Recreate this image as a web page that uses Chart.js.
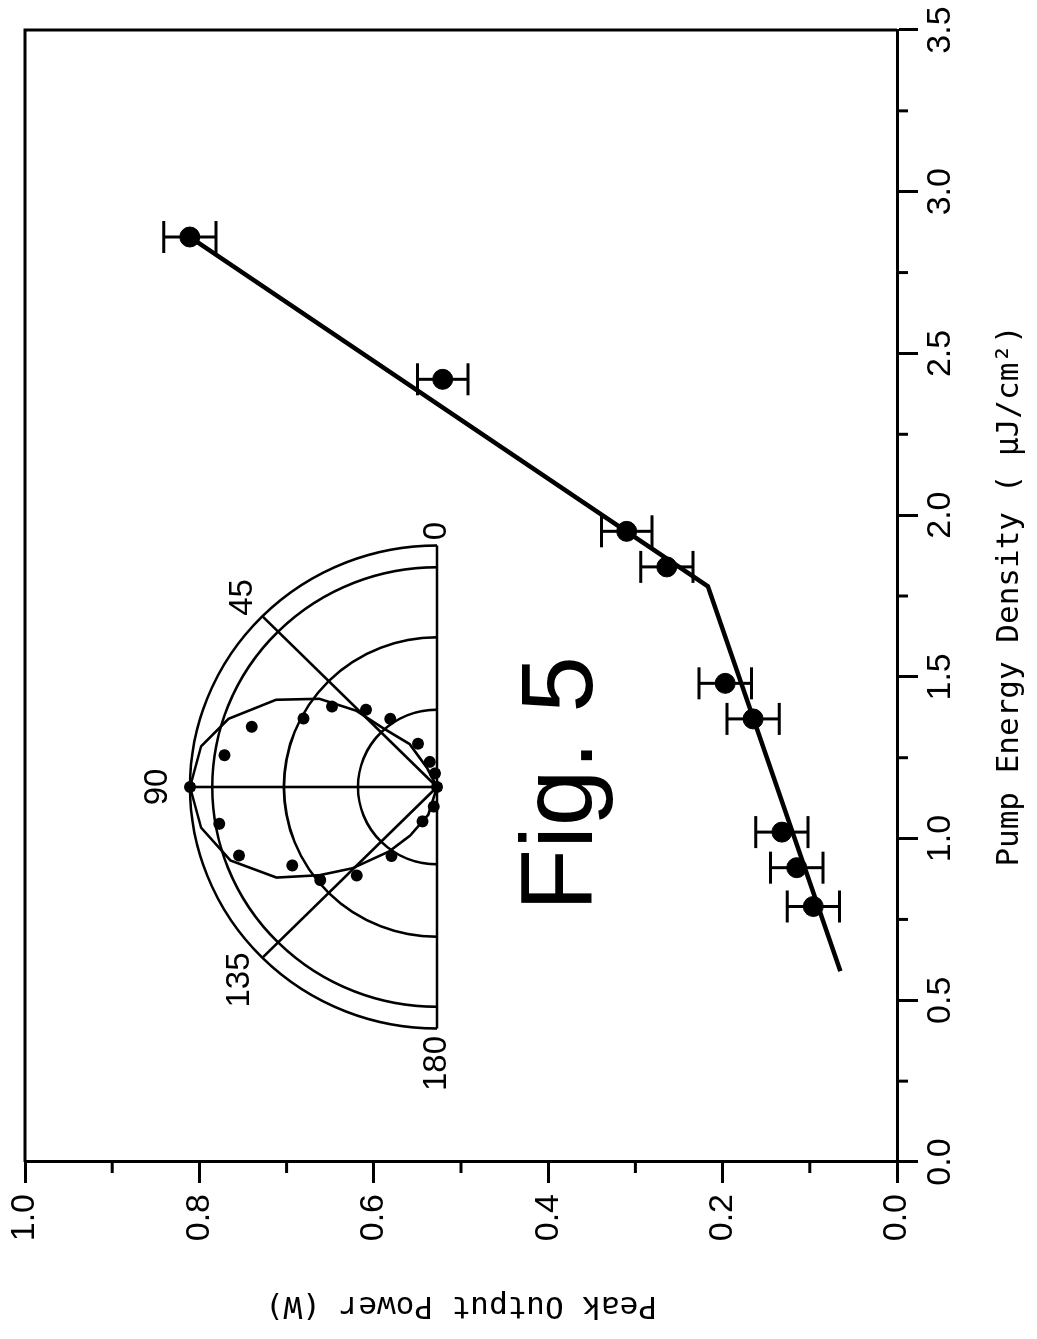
<!DOCTYPE html>
<html lang="en">
  <head>
    <meta charset="UTF-8" />
    <title>Fig. 5 - Peak Output Power vs Pump Energy Density</title>
    <script src="https://cdn.jsdelivr.net/npm/chart.js"></script>
    <style>
      html, body {
        margin: 0;
        padding: 0;
        background-color: #ffffff;
        overflow: hidden;
      }
      /* the figure is printed sideways: draw it upright, then turn it */
      #wrap {
        position: absolute;
        left: 0;
        top: 0;
        width: 1339px;
        height: 1037px;
        transform-origin: 0 0;
        transform: translate(0, 1339px) rotate(-90deg);
      }
    </style>
  </head>
  <body>
    <div id="wrap"><canvas id="fig5" width="1339" height="1037"></canvas></div>
    <script>
      // main plot: measured points with error bars
      const pumpEnergy = [2.86, 2.42, 1.95, 1.84, 1.48, 1.37, 1.02, 0.91, 0.79];
      const peakPower = [0.811, 0.521, 0.31, 0.264, 0.197, 0.165, 0.132, 0.115, 0.096];
      const powerError = [0.03, 0.029, 0.029, 0.03, 0.03, 0.03, 0.03, 0.03, 0.03];

      // fitted two-slope line
      const fitPump = [0.59, 1.78, 2.86];
      const fitPower = [0.065, 0.217, 0.811];

      // tick labels
      const pumpTicks = [0.0, 0.5, 1.0, 1.5, 2.0, 2.5, 3.0, 3.5];
      const powerTicks = [0.0, 0.2, 0.4, 0.6, 0.8, 1.0];

      // polar inset: measured dots (angle in degrees, normalized value)
      const polarAngle = [0, 8, 15.5, 23.2, 33.9, 41.9, 51.9, 62.3, 71.6, 81.3, 90,
        99.8, 109.5, 119, 129.2, 138.4, 147.2, 157.6, 171];
      const polarValue = [0, 0.057, 0.108, 0.195, 0.34, 0.43, 0.54, 0.61, 0.79, 0.87, 1.0,
        0.895, 0.85, 0.67, 0.61, 0.49, 0.34, 0.154, 0.082];

      // polar inset: fitted curve
      const polarFitAngle = [0, 27, 32, 42, 46, 52.5, 61, 71.5, 80, 90,
        100, 110, 120, 127.5, 134.5, 144, 151.5, 163, 180];
      const polarFitValue = [0, 0.09, 0.21, 0.33, 0.455, 0.6, 0.745, 0.89, 0.97, 1.0,
        0.97, 0.89, 0.75, 0.6, 0.48, 0.33, 0.23, 0.12, 0];

      // polar inset grid and angle labels
      const polarRings = [0.32, 0.62, 0.91, 1.0];
      const polarSpokes = [45, 90, 135];
      const polarLabels = ["0", "45", "90", "135", "180"];
      const polarLabelAngle = [0, 45, 90, 135, 180];
      const polarLabelRadius = [1.06, 1.11, 1.13, 1.13, 1.145];

      // layout (pixels in the upright frame)
      const AREA = { left: 177, right: 1309, top: 25, bottom: 897 };
      const INSET = { cx: 552, cy: 437, ux: 241.5, uy: 247 };

      const rad = (d) => (d * Math.PI) / 180;
      const polarXY = (angles, values) =>
        angles.map((a, i) => ({
          x: values[i] * Math.cos(rad(a)),
          y: values[i] * Math.sin(rad(a)),
        }));

      const noPad = (s) => {
        s.paddingTop = 0;
        s.paddingBottom = 0;
        s.paddingLeft = 0;
        s.paddingRight = 0;
      };

      const decor = {
        id: "decor",
        beforeDraw(chart) {
          const ctx = chart.ctx;
          ctx.save();
          ctx.fillStyle = "#ffffff";
          ctx.fillRect(0, 0, chart.width, chart.height);
          ctx.restore();
        },
        beforeDatasetsDraw(chart) {
          const ctx = chart.ctx;
          const a = chart.chartArea;
          const x = chart.scales.x;
          const y = chart.scales.y;
          const px = chart.scales.px;
          const py = chart.scales.py;
          ctx.save();
          ctx.strokeStyle = "#000";
          ctx.lineCap = "butt";

          // frame (top and right sides)
          ctx.lineWidth = 3;
          ctx.beginPath();
          ctx.moveTo(a.left, a.top);
          ctx.lineTo(a.right, a.top);
          ctx.lineTo(a.right, a.bottom);
          ctx.stroke();

          // minor ticks halfway between the major ones
          for (let i = 0; i < pumpTicks.length - 1; i++) {
            const xp = x.getPixelForValue((pumpTicks[i] + pumpTicks[i + 1]) / 2);
            ctx.beginPath();
            ctx.moveTo(xp, a.bottom);
            ctx.lineTo(xp, a.bottom + 11);
            ctx.stroke();
          }
          for (let i = 0; i < powerTicks.length - 1; i++) {
            const yp = y.getPixelForValue((powerTicks[i] + powerTicks[i + 1]) / 2);
            ctx.beginPath();
            ctx.moveTo(a.left, yp);
            ctx.lineTo(a.left - 11, yp);
            ctx.stroke();
          }

          // polar inset grid
          const ox = px.getPixelForValue(0);
          const oy = py.getPixelForValue(0);
          ctx.lineWidth = 2.6;
          polarRings.forEach((r) => {
            const rx = px.getPixelForValue(r) - ox;
            const ry = oy - py.getPixelForValue(r);
            ctx.beginPath();
            ctx.ellipse(ox, oy, rx, ry, 0, Math.PI, 2 * Math.PI);
            ctx.stroke();
          });
          ctx.beginPath();
          ctx.moveTo(px.getPixelForValue(-1), oy);
          ctx.lineTo(px.getPixelForValue(1), oy);
          ctx.stroke();
          polarSpokes.forEach((d) => {
            ctx.beginPath();
            ctx.moveTo(ox, oy);
            ctx.lineTo(px.getPixelForValue(Math.cos(rad(d))), py.getPixelForValue(Math.sin(rad(d))));
            ctx.stroke();
          });

          // error bars
          ctx.lineWidth = 3;
          pumpEnergy.forEach((p, i) => {
            const xp = x.getPixelForValue(p);
            const y1 = y.getPixelForValue(peakPower[i] - powerError[i]);
            const y2 = y.getPixelForValue(peakPower[i] + powerError[i]);
            ctx.beginPath();
            ctx.moveTo(xp, y1);
            ctx.lineTo(xp, y2);
            ctx.moveTo(xp - 16, y1);
            ctx.lineTo(xp + 16, y1);
            ctx.moveTo(xp - 16, y2);
            ctx.lineTo(xp + 16, y2);
            ctx.stroke();
          });
          ctx.restore();
        },
        afterDatasetsDraw(chart) {
          const ctx = chart.ctx;
          const x = chart.scales.x;
          const y = chart.scales.y;
          const px = chart.scales.px;
          const py = chart.scales.py;
          ctx.save();
          ctx.fillStyle = "#000";

          // angle labels of the inset
          ctx.font = "33px 'Liberation Sans', Arial, sans-serif";
          ctx.textAlign = "center";
          ctx.textBaseline = "middle";
          polarLabels.forEach((t, i) => {
            const r = polarLabelRadius[i];
            const d = rad(polarLabelAngle[i]);
            ctx.fillText(t, px.getPixelForValue(r * Math.cos(d)), py.getPixelForValue(r * Math.sin(d)));
          });

          // figure caption
          ctx.font = "102px 'Liberation Sans', Arial, sans-serif";
          ctx.textBaseline = "alphabetic";
          ctx.fillText("Fig. 5", x.getPixelForValue(1.17), y.getPixelForValue(0.35));
          ctx.restore();
        },
      };

      const tickFont = { family: "'Liberation Sans', Arial, sans-serif", size: 34 };
      const titleFont = { family: "'DejaVu Sans Mono', monospace", size: 31 };

      new Chart(document.getElementById("fig5"), {
        type: "scatter",
        data: {
          datasets: [
            {
              label: "Fit",
              data: fitPump.map((p, i) => ({ x: p, y: fitPower[i] })),
              showLine: true,
              borderColor: "#000",
              borderWidth: 4.5,
              pointRadius: 0,
              xAxisID: "x",
              yAxisID: "y",
            },
            {
              label: "Peak output power",
              data: pumpEnergy.map((p, i) => ({ x: p, y: peakPower[i] })),
              showLine: false,
              backgroundColor: "#000",
              borderColor: "#000",
              borderWidth: 1,
              pointRadius: 10,
              xAxisID: "x",
              yAxisID: "y",
            },
            {
              label: "Polar fit",
              data: polarXY(polarFitAngle, polarFitValue),
              showLine: true,
              borderColor: "#000",
              borderWidth: 2.6,
              pointRadius: 0,
              xAxisID: "px",
              yAxisID: "py",
            },
            {
              label: "Polar data",
              data: polarXY(polarAngle, polarValue),
              showLine: false,
              backgroundColor: "#000",
              borderColor: "#000",
              borderWidth: 0,
              pointRadius: 6,
              xAxisID: "px",
              yAxisID: "py",
            },
          ],
        },
        options: {
          responsive: false,
          animation: false,
          devicePixelRatio: 1,
          layout: { padding: { top: AREA.top, right: 1339 - AREA.right, left: 0, bottom: 0 } },
          plugins: {
            legend: { display: false },
            tooltip: { enabled: false },
          },
          scales: {
            x: {
              type: "linear",
              position: "bottom",
              min: 0,
              max: 3.5,
              afterBuildTicks: (s) => {
                s.ticks = pumpTicks.map((v) => ({ value: v }));
              },
              afterFit: (s) => {
                s.height = 1037 - AREA.bottom;
                noPad(s);
              },
              ticks: {
                color: "#000",
                font: tickFont,
                padding: 2,
                maxRotation: 0,
                callback: (v) => Number(v).toFixed(1),
              },
              grid: {
                drawOnChartArea: false,
                drawTicks: true,
                tickLength: 21,
                tickWidth: 3,
                tickColor: "#000",
              },
              border: { display: true, color: "#000", width: 3 },
              title: {
                display: true,
                text: "Pump Energy Density ( μJ/cm²)",
                color: "#000",
                font: titleFont,
                padding: { top: 0, bottom: 8 },
              },
            },
            y: {
              type: "linear",
              position: "left",
              min: 0,
              max: 1,
              afterBuildTicks: (s) => {
                s.ticks = powerTicks.map((v) => ({ value: v }));
              },
              afterFit: (s) => {
                s.width = AREA.left;
                noPad(s);
              },
              ticks: {
                color: "#000",
                font: tickFont,
                padding: 11,
                callback: (v) => Number(v).toFixed(1),
              },
              grid: {
                drawOnChartArea: false,
                drawTicks: true,
                tickLength: 21,
                tickWidth: 3,
                tickColor: "#000",
              },
              border: { display: true, color: "#000", width: 3 },
              title: {
                display: true,
                text: "Peak Output Power (W)",
                color: "#000",
                font: titleFont,
                padding: { top: 15, bottom: 0 },
              },
            },
            // hidden scales for the polar inset (unit radius = INSET.ux / INSET.uy px)
            px: {
              type: "linear",
              axis: "x",
              position: "bottom",
              display: false,
              min: (AREA.left - INSET.cx) / INSET.ux,
              max: (AREA.right - INSET.cx) / INSET.ux,
            },
            py: {
              type: "linear",
              axis: "y",
              position: "left",
              display: false,
              min: (INSET.cy - AREA.bottom) / INSET.uy,
              max: (INSET.cy - AREA.top) / INSET.uy,
            },
          },
        },
        plugins: [decor],
      });
    </script>
  </body>
</html>
